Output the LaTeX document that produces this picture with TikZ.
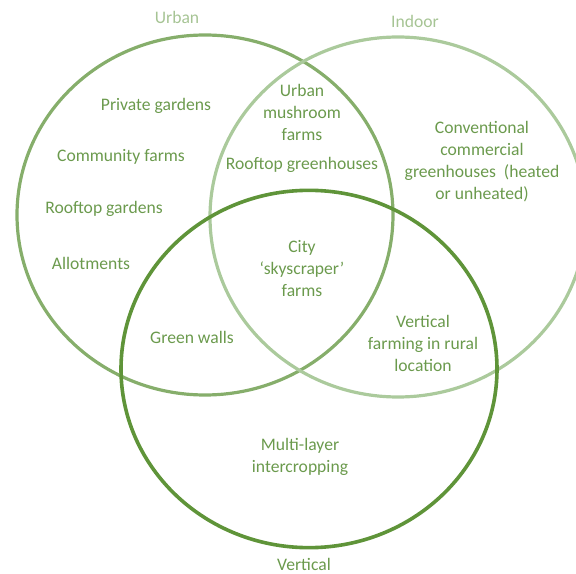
\documentclass[tikz,border=0pt]{standalone}
\usepackage{fontspec}
\setmainfont{Carlito}
\usepackage{tikz}
\usetikzlibrary{positioning}
\definecolor{UrbanRing}{HTML}{86AE6B}
\definecolor{IndoorRing}{HTML}{ABCA9C}
\definecolor{VerticalRing}{HTML}{5F9439}
\definecolor{FarmText}{HTML}{6B9A4D}
\definecolor{SetTitle}{HTML}{A6C494}

\begin{document}
\begin{tikzpicture}[
  x=0.75pt,y=-0.75pt,
  font=\fontsize{13.2}{16.5}\selectfont,
  text=FarmText,
  ring/.style={line width=2.4pt},
  farm/.style={align=center,inner sep=1pt},
  settitle/.style={font=\fontsize{13.2}{15}\selectfont,inner sep=0pt},
]
  \useasboundingbox (0,0) rectangle (576,574);

  % the three sets
  \draw[ring,UrbanRing] (205,215) ellipse [x radius=141pt,y radius=135pt];
  \draw[ring,IndoorRing] (398,217) ellipse [x radius=141pt,y radius=135pt];
  \draw[ring,VerticalRing,line width=2.7pt] (309,369) ellipse [x radius=141pt,y radius=134pt];

  \node[settitle,text=SetTitle] (urbanlabel) at (177,17) {Urban};
  \node[settitle,text=SetTitle] (indoorlabel) at (415,21) {Indoor};
  \node[settitle] (verticallabel) at (304,564) {Vertical};

  % urban only
  \node[farm] (private) at (156,106) {Private gardens};
  \node[farm] (community) at (121,157) {Community farms};
  \node[farm] (rooftopgardens) at (104,209) {Rooftop gardens};
  \node[farm] (allotments) at (91,263) {Allotments};

  % urban and indoor
  \node[farm] (mushroom) at (302,112) {Urban\\mushroom\\farms};
  \node[farm] (rooftopgreen) at (302,165) {Rooftop greenhouses};

  % indoor only
  \node[farm] (conventional) at (482,162) {Conventional\\commercial\\greenhouses~ (heated\\or unheated)};

  % all three
  \node[farm] (skyscraper) at (302,269) {City\\‘skyscraper’\\farms};

  % urban and vertical
  \node[farm] (greenwalls) at (192,337) {Green walls};

  % indoor and vertical
  \node[farm] (rural) at (423,343) {Vertical\\farming in rural\\location};

  % vertical only
  \node[farm] (intercropping) at (300,457) {Multi-layer\\intercropping};
\end{tikzpicture}
\end{document}
